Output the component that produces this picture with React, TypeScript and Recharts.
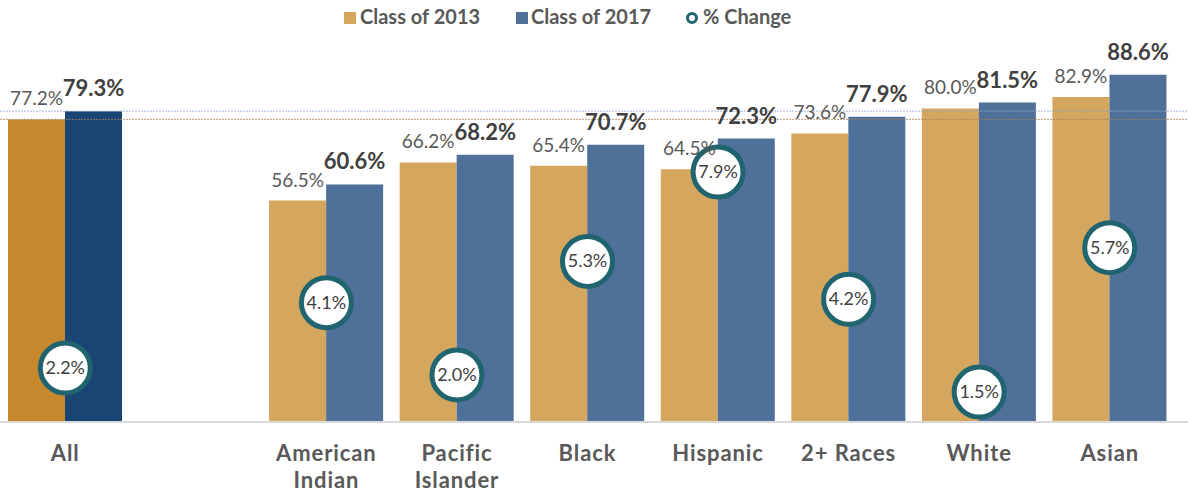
import React from "react";
import {
  ComposedChart,
  Bar,
  Line,
  XAxis,
  YAxis,
  Cell,
  LabelList,
  ReferenceLine,
} from "recharts";

const categories = [
  "All",
  " ",
  "American Indian",
  "Pacific Islander",
  "Black",
  "Hispanic",
  "2+ Races",
  "White",
  "Asian",
];
const tickLines: string[][] = [
  ["All"],
  [],
  ["American", "Indian"],
  ["Pacific", "Islander"],
  ["Black"],
  ["Hispanic"],
  ["2+ Races"],
  ["White"],
  ["Asian"],
];
const class2013 = [77.2, null, 56.5, 66.2, 65.4, 64.5, 73.6, 80.0, 82.9];
const class2017 = [79.3, null, 60.6, 68.2, 70.7, 72.3, 77.9, 81.5, 88.6];
const pctChange = [2.2, null, 4.1, 2.0, 5.3, 7.9, 4.2, 1.5, 5.7];

const data = categories.map((name, i) => ({
  name,
  c2013: class2013[i],
  c2017: class2017[i],
  change: pctChange[i],
}));

const FONT = "Lato, 'DejaVu Sans', sans-serif";
const ORANGE = "#D4A65E";
const BLUE = "#4F7099";
const ORANGE_ALL = "#C5882D";
const BLUE_ALL = "#184574";
const TEAL = "#1F646E";

const fmt = (v: any) => (v == null ? "" : `${Number(v).toFixed(1)}%`);

const CategoryTick = (props: any) => {
  const { x, y, index } = props;
  const lines = tickLines[index] || [];
  return (
    <g>
      {lines.map((l, i) => (
        <text
          key={i}
          x={x}
          y={y + 39 + i * 27}
          textAnchor="middle"
          fontFamily={FONT}
          fontWeight={700}
          fontSize={22}
          letterSpacing={0.9}
          fill="#595959"
        >
          {l}
        </text>
      ))}
    </g>
  );
};

const ChangeDot = (props: any) => {
  const { cx, cy, value } = props;
  if (value == null || cx == null || cy == null) return <g />;
  return (
    <g>
      <circle cx={cx} cy={cy} r={25} fill="#fff" stroke={TEAL} strokeWidth={5} />
      <text
        x={cx}
        y={cy + 6}
        textAnchor="middle"
        fontFamily={FONT}
        fontSize={18}
        fill="#404040"
      >
        {fmt(value)}
      </text>
    </g>
  );
};

const legendText: React.CSSProperties = {
  position: "absolute",
  top: 4,
  fontFamily: FONT,
  fontWeight: 700,
  fontSize: 20,
  color: "#595959",
  whiteSpace: "nowrap",
};

export default function App() {
  return (
    <div style={{ position: "absolute", left: 0, top: 0, width: 1188, height: 493 }}>
      <div style={{ position: "absolute", left: 344, top: 12, width: 12, height: 12, background: ORANGE }} />
      <div style={{ ...legendText, left: 360 }}>Class of 2013</div>
      <div style={{ position: "absolute", left: 516, top: 12, width: 12, height: 12, background: BLUE }} />
      <div style={{ ...legendText, left: 531 }}>Class of 2017</div>
      <div
        style={{
          position: "absolute",
          left: 686,
          top: 12,
          width: 6,
          height: 6,
          borderRadius: "50%",
          border: `3px solid ${TEAL}`,
        }}
      />
      <div style={{ ...legendText, left: 703 }}>% Change</div>

      <ComposedChart
        width={1188}
        height={493}
        data={data}
        margin={{ top: 30, right: 0, bottom: 0, left: 0 }}
        barCategoryGap={8}
        barGap={0}
      >
        <XAxis
          dataKey="name"
          height={71}
          interval={0}
          padding={{ left: 0, right: 13 }}
          tickLine={false}
          tickSize={0}
          tickMargin={0}
          axisLine={{ stroke: "#D9D9D9", strokeWidth: 2 }}
          tick={<CategoryTick />}
        />
        <YAxis yAxisId="left" hide domain={[0, 100]} />
        <YAxis yAxisId="right" orientation="right" hide domain={[0.63, 12.03]} allowDataOverflow />
        <Bar yAxisId="left" dataKey="c2013" fill={ORANGE} isAnimationActive={false}>
          {data.map((d, i) => (
            <Cell key={i} fill={i === 0 ? ORANGE_ALL : ORANGE} />
          ))}
          <LabelList
            dataKey="c2013"
            position="top"
            offset={14}
            formatter={fmt}
            style={{ fontFamily: FONT, fontSize: 19, fill: "#595959" }}
          />
        </Bar>
        <Bar yAxisId="left" dataKey="c2017" fill={BLUE} isAnimationActive={false}>
          {data.map((d, i) => (
            <Cell key={i} fill={i === 0 ? BLUE_ALL : BLUE} />
          ))}
          <LabelList
            dataKey="c2017"
            position="top"
            offset={15}
            formatter={fmt}
            style={{ fontFamily: FONT, fontSize: 22, fontWeight: 700, fill: "#404040" }}
          />
        </Bar>
        <ReferenceLine
          yAxisId="left"
          y={class2017[0] as number}
          stroke="#8FA6CC"
          strokeDasharray="2 1"
          strokeOpacity={0.8}
        />
        <ReferenceLine
          yAxisId="left"
          y={class2013[0] as number}
          stroke="#A9825A"
          strokeDasharray="2 1"
          strokeOpacity={0.8}
        />
        <Line
          yAxisId="right"
          dataKey="change"
          stroke="none"
          isAnimationActive={false}
          dot={<ChangeDot />}
          activeDot={false}
          legendType="circle"
        />
      </ComposedChart>
    </div>
  );
}
